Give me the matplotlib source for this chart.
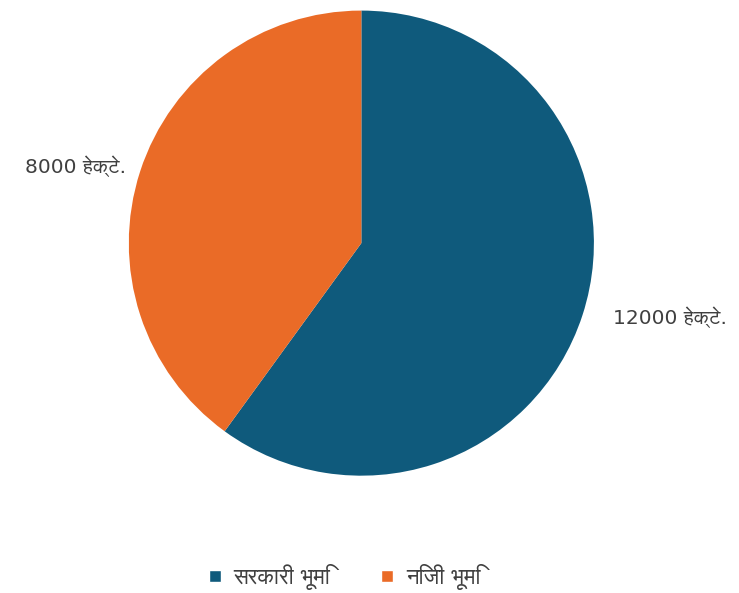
import matplotlib
matplotlib.use('Agg')
import matplotlib.pyplot as plt
from matplotlib import font_manager
from matplotlib.ft2font import FT2Font
from matplotlib.lines import Line2D

labels = ['सरकारी भूमि', 'निजी भूमि']
values = [12000, 8000]
value_texts = ['12000 हेक्टे.', '8000 हेक्टे.']
colors = ['#0F5A7C', '#EA6B27']

# look for installed fonts that have Devanagari glyphs, prefer a proportional sans one
found = []
for f in font_manager.fontManager.ttflist:
    try:
        if 0x0939 in FT2Font(f.fname).get_charmap():
            found.append(f)
    except Exception:
        pass

def rank(f):
    n = (f.name + ' ' + f.fname).lower()
    score = 0
    if 'mono' in n:
        score += 10
    if 'serif' in n and 'sans' not in n:
        score += 5
    if 'sans' in n:
        score -= 2
    if f.weight not in (400, 'normal', 'regular'):
        score += 3
    if f.style != 'normal':
        score += 3
    return score

found.sort(key=rank)
families = ['DejaVu Sans']
if found:
    families.append(found[0].name)
plt.rcParams['font.family'] = families

fig = plt.figure(figsize=(7.39, 5.93), dpi=100)
ax = fig.add_axes([0.0, 0.19, 1.0, 0.8])
wedges, _ = ax.pie(values, colors=colors, startangle=90, counterclock=False,
                   radius=1.0)
ax.set_aspect('equal')
ax.set_xlim(-1.55, 1.62)
ax.set_ylim(-1.02, 1.02)

ax.text(1.08, -0.32, value_texts[0], fontsize=14.5, color='#404040',
        ha='left', va='center')
ax.text(-1.013, 0.33, value_texts[1], fontsize=14.5, color='#404040',
        ha='right', va='center')

handles = [Line2D([0], [0], marker='s', color='w', markerfacecolor=c,
                  markersize=8, linestyle='') for c in colors]
fig.legend(handles, labels, loc='center', bbox_to_anchor=(0.459, 0.027),
           ncol=2, frameon=False, fontsize=16, handletextpad=0.1,
           handlelength=1.5, columnspacing=1.8, labelcolor='#404040')

fig.savefig('out.png', dpi=100)
